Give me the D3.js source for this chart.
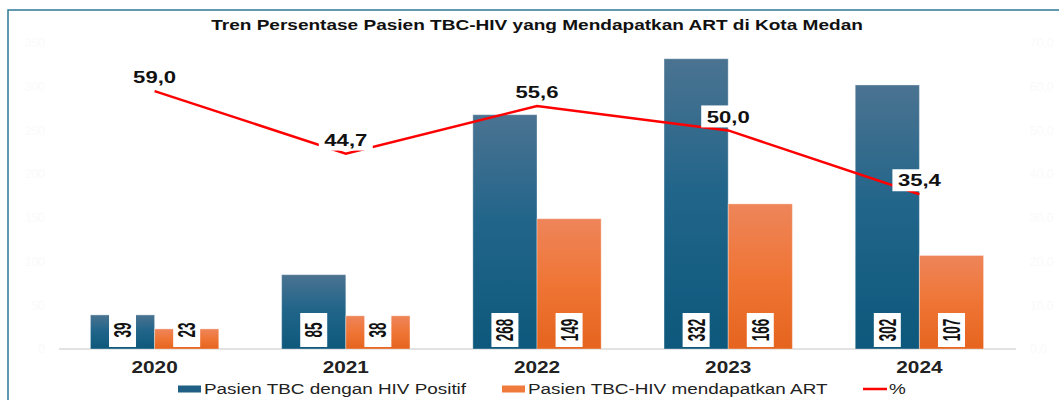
<!DOCTYPE html>
<html>
<head>
<meta charset="utf-8">
<title>Tren Persentase Pasien TBC-HIV</title>
<script src="https://d3js.org/d3.v7.min.js"></script>
<style>
  body { margin: 0; background: #fff; }
  svg { display: block; font-family: Arial, "Liberation Sans", sans-serif; }
</style>
</head>
<body>
<div id="chart"></div>
<script>
// data
var years = ["2020", "2021", "2022", "2023", "2024"];
var hivPositif = [39, 85, 268, 332, 302];
var dapatART = [23, 38, 149, 166, 107];
var persen = [59.0, 44.7, 55.6, 50.0, 35.4];
var leftTicks = [0, 50, 100, 150, 200, 250, 300, 350];
var rightTicks = [0, 10, 20, 30, 40, 50, 60, 70];
var seriesNames = ["Pasien TBC dengan HIV Positif", "Pasien TBC-HIV mendapatkan ART", "%"];

var width = 1059, height = 400;
var fmt = function(v) { return v.toFixed(1).replace(".", ","); };

var svg = d3.select("#chart").append("svg")
  .attr("width", width)
  .attr("height", height);

var defs = svg.append("defs");
var gBlue = defs.append("linearGradient").attr("id", "gBlue")
  .attr("x1", 0).attr("y1", 0).attr("x2", 0).attr("y2", 1);
gBlue.append("stop").attr("offset", "0%").attr("stop-color", "#4b7391");
gBlue.append("stop").attr("offset", "45%").attr("stop-color", "#22658a");
gBlue.append("stop").attr("offset", "100%").attr("stop-color", "#0d587c");
var gOrange = defs.append("linearGradient").attr("id", "gOrange")
  .attr("x1", 0).attr("y1", 0).attr("x2", 0).attr("y2", 1);
gOrange.append("stop").attr("offset", "0%").attr("stop-color", "#ee855a");
gOrange.append("stop").attr("offset", "50%").attr("stop-color", "#ef7535");
gOrange.append("stop").attr("offset", "100%").attr("stop-color", "#e5641e");

// frame
svg.append("path")
  .attr("d", "M8,400 L8,10 L1059,10")
  .attr("fill", "none")
  .attr("stroke", "#2c7a98")
  .attr("stroke-width", 1.5);

// scales
var x = d3.scaleBand().domain(years).range([59, 1015]).paddingInner(0).paddingOuter(0);
var xSub = d3.scaleBand().domain(["a", "b"]).range([0, x.bandwidth()]).paddingOuter(0.49);
var yL = d3.scaleLinear().domain([0, 350]).range([349, 43]);
var yR = d3.scaleLinear().domain([0, 70]).range([349, 43]);

// faint axes (almost white in the original)
var axL = svg.append("g").attr("transform", "translate(45,0)")
  .call(d3.axisLeft(yL).tickValues(leftTicks).tickSize(0).tickPadding(0));
axL.select(".domain").remove();
axL.selectAll("text").attr("fill", "#fafafa").style("font-size", "12px");

var axR = svg.append("g").attr("transform", "translate(1030,0)")
  .call(d3.axisRight(yR).tickValues(rightTicks).tickFormat(fmt).tickSize(0).tickPadding(0));
axR.select(".domain").remove();
axR.selectAll("text").attr("fill", "#fafafa").style("font-size", "12px");

// baseline
svg.append("line")
  .attr("x1", 59).attr("x2", 1016)
  .attr("y1", yL(0)).attr("y2", yL(0))
  .attr("stroke", "#d9d9d9").attr("stroke-width", 1.5);

// bars
function drawBars(values, key, fill) {
  var g = svg.append("g");
  g.selectAll("rect")
    .data(values)
    .enter().append("rect")
    .attr("x", function(d, i) { return x(years[i]) + xSub(key); })
    .attr("y", function(d) { return yL(d); })
    .attr("width", xSub.bandwidth())
    .attr("height", function(d) { return yL(0) - yL(d); })
    .attr("fill", fill)
    .attr("stroke", "rgba(255,255,255,0.35)")
    .attr("stroke-width", 1);

  // rotated value labels
  var lab = g.selectAll("g.lab")
    .data(values)
    .enter().append("g")
    .attr("class", "lab")
    .attr("transform", function(d, i) {
      var cx = x(years[i]) + xSub(key) + xSub.bandwidth() / 2;
      return "translate(" + cx + "," + (yL(0) - 19) + ")";
    });
  lab.append("rect")
    .attr("x", -13.5).attr("y", -17)
    .attr("width", 27).attr("height", 34)
    .attr("fill", "#fff");
  lab.append("text")
    .attr("transform", "rotate(-90) scale(0.75,1.3)")
    .attr("text-anchor", "middle")
    .attr("dy", "0.36em")
    .style("font-size", "18px")
    .style("font-weight", "bold")
    .attr("fill", "#111")
    .text(function(d) { return d; });
}
drawBars(hivPositif, "a", "url(#gBlue)");
drawBars(dapatART, "b", "url(#gOrange)");

// percentage line
var cx = function(i) { return x(years[i]) + x.bandwidth() / 2; };
var line = d3.line()
  .x(function(d, i) { return cx(i); })
  .y(function(d) { return yR(d); });
svg.append("path")
  .datum(persen)
  .attr("d", line)
  .attr("fill", "none")
  .attr("stroke", "#ff0000")
  .attr("stroke-width", 2.5);

var pl = svg.selectAll("g.pl")
  .data(persen)
  .enter().append("g")
  .attr("class", "pl")
  .attr("transform", function(d, i) { return "translate(" + cx(i) + "," + (yR(d) - 14) + ")"; });
pl.append("rect")
  .attr("x", -27).attr("y", -11)
  .attr("width", 54).attr("height", 22)
  .attr("fill", "#fff");
pl.append("text")
  .attr("text-anchor", "middle")
  .attr("dy", "0.36em")
  .attr("transform", "scale(1.3,1)")
  .style("font-size", "17px")
  .style("font-weight", "bold")
  .attr("fill", "#111")
  .text(function(d) { return fmt(d); });

// year labels
svg.selectAll("text.yr")
  .data(years)
  .enter().append("text")
  .attr("class", "yr")
  .attr("transform", function(d) { return "translate(" + (x(d) + x.bandwidth() / 2) + ",373) scale(1.3,1)"; })
  .attr("text-anchor", "middle")
  .style("font-size", "16px")
  .style("font-weight", "bold")
  .attr("fill", "#222")
  .text(function(d) { return d; });

// title
svg.append("text")
  .attr("transform", "translate(537,30) scale(1.27,1)")
  .attr("text-anchor", "middle")
  .style("font-size", "15px")
  .style("font-weight", "bold")
  .attr("fill", "#111")
  .text("Tren Persentase Pasien TBC-HIV yang Mendapatkan ART di Kota Medan");

// legend
var legendX = [178, 502, 863];
var leg = svg.selectAll("g.leg")
  .data(seriesNames)
  .enter().append("g")
  .attr("class", "leg")
  .attr("transform", function(d, i) { return "translate(" + legendX[i] + ",389)"; });
leg.each(function(d, i) {
  var g = d3.select(this);
  if (i < 2) {
    g.append("rect").attr("x", 0).attr("y", -3.5).attr("width", 23).attr("height", 7)
      .attr("fill", i === 0 ? "#1f5f85" : "#ef7a3c");
  } else {
    g.append("line").attr("x1", 0).attr("x2", 24).attr("y1", 0).attr("y2", 0)
      .attr("stroke", "#ff0000").attr("stroke-width", 2.5);
  }
  g.append("text")
    .attr("transform", "translate(26,0) scale(1.26,1)")
    .attr("dy", "0.36em")
    .style("font-size", "15px")
    .attr("fill", "#222")
    .text(d);
});
</script>
</body>
</html>
